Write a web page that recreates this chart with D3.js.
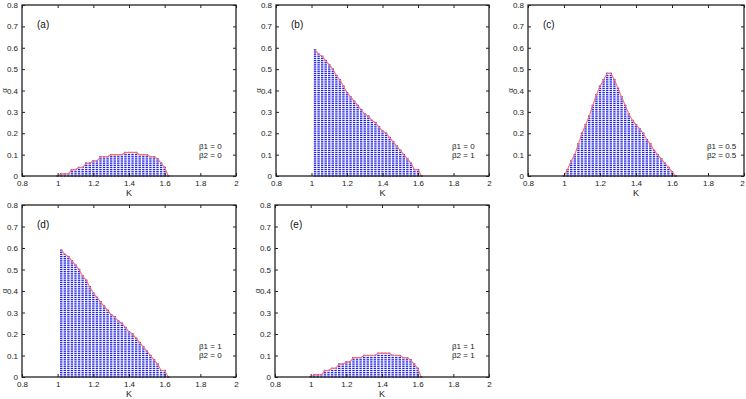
<!DOCTYPE html>
<html>
<head>
<meta charset="utf-8">
<script src="https://cdn.jsdelivr.net/npm/d3@7"></script>
<style>
  body { margin: 0; background: #fff; }
  svg { display: block; font-family: "Liberation Sans", Arial, sans-serif; }
</style>
</head>
<body>
<div id="chart"></div>
<script>
// ticks shared by all five panels
var xTicks = [0.8, 1, 1.2, 1.4, 1.6, 1.8, 2];
var yTicks = [0, 0.1, 0.2, 0.3, 0.4, 0.5, 0.6, 0.7, 0.8];
var alphaStep = 0.01;

// (a) and (e): beta1 = beta2
var kA = [1.00, 1.02, 1.04, 1.06, 1.08, 1.10, 1.12, 1.14, 1.16, 1.18, 1.20, 1.22, 1.24, 1.26, 1.28, 1.30,
          1.32, 1.34, 1.36, 1.38, 1.40, 1.42, 1.44, 1.46, 1.48, 1.50, 1.52, 1.54, 1.56, 1.58, 1.60, 1.62];
var alphaA = [0, 0.01, 0.01, 0.01, 0.03, 0.03, 0.04, 0.04, 0.06, 0.06, 0.07, 0.07, 0.09, 0.09, 0.09, 0.10,
              0.10, 0.10, 0.10, 0.11, 0.11, 0.11, 0.11, 0.10, 0.10, 0.10, 0.09, 0.09, 0.08, 0.06, 0.04, 0];

// (b) and (d): one beta is 1, the other 0
var kB = [1.02, 1.04, 1.06, 1.08, 1.10, 1.12, 1.14, 1.16, 1.18, 1.20, 1.22, 1.24, 1.26, 1.28, 1.30, 1.32,
          1.34, 1.36, 1.38, 1.40, 1.42, 1.44, 1.46, 1.48, 1.50, 1.52, 1.54, 1.56, 1.58, 1.60, 1.62];
var alphaB = [0.59, 0.57, 0.56, 0.54, 0.52, 0.50, 0.47, 0.45, 0.42, 0.39, 0.37, 0.35, 0.33, 0.31, 0.29, 0.28,
              0.26, 0.25, 0.23, 0.21, 0.20, 0.18, 0.16, 0.14, 0.12, 0.10, 0.08, 0.06, 0.03, 0.03, 0];

// (c): beta1 = beta2 = 0.5
var kC = [1.00, 1.02, 1.04, 1.06, 1.08, 1.10, 1.12, 1.14, 1.16, 1.18, 1.20, 1.22, 1.24, 1.26, 1.28, 1.30,
          1.32, 1.34, 1.36, 1.38, 1.40, 1.42, 1.44, 1.46, 1.48, 1.50, 1.52, 1.54, 1.56, 1.58, 1.60, 1.62];
var alphaC = [0, 0.03, 0.07, 0.10, 0.15, 0.20, 0.24, 0.28, 0.33, 0.38, 0.42, 0.45, 0.48, 0.48, 0.45, 0.41,
              0.37, 0.33, 0.29, 0.26, 0.24, 0.22, 0.20, 0.17, 0.15, 0.12, 0.10, 0.08, 0.06, 0.04, 0.02, 0];

var panelLabels = ["(a)", "(b)", "(c)", "(d)", "(e)"];
var beta1 = ["0", "0", "0.5", "1", "1"];
var beta2 = ["0", "1", "0.5", "0", "1"];

var panels = [
  {k: kA, a: alphaA, x: 22,  y: 5,   w: 214, h: 171},
  {k: kB, a: alphaB, x: 276, y: 5,   w: 213, h: 171},
  {k: kC, a: alphaC, x: 528, y: 5,   w: 216, h: 171},
  {k: kB, a: alphaB, x: 22,  y: 205, w: 214, h: 172},
  {k: kA, a: alphaA, x: 275, y: 205, w: 214, h: 172}
];

var svg = d3.select("#chart").append("svg")
    .attr("width", 746)
    .attr("height", 399);

panels.forEach(function(p, i) {
  var g = svg.append("g").attr("transform", "translate(" + p.x + "," + p.y + ")");

  var x = d3.scaleLinear().domain([0.8, 2]).range([0, p.w]);
  var y = d3.scaleLinear().domain([0, 0.8]).range([p.h, 0]);

  // grid points under the boundary
  var dots = [];
  p.k.forEach(function(k, j) {
    var n = Math.round(p.a[j] / alphaStep);
    for (var r = 0; r <= n; r++) dots.push([k, r * alphaStep]);
  });

  g.append("g").selectAll("rect")
    .data(dots)
    .join("rect")
    .attr("x", function(d) { return x(d[0]) - 1.2; })
    .attr("y", function(d) { return y(d[1]) - 0.65; })
    .attr("width", 2.4)
    .attr("height", 1.3)
    .attr("fill", "#2020e6");

  g.append("path")
    .datum(p.k.map(function(k, j) { return [k, p.a[j]]; }))
    .attr("fill", "none")
    .attr("stroke", "#ff6f6f")
    .attr("stroke-width", 1.1)
    .attr("d", d3.line().x(function(d) { return x(d[0]); }).y(function(d) { return y(d[1]); }));

  // axes, ticks pointing inward on all sides
  var fmt = function(d) { return String(d); };
  var bottom = g.append("g").attr("transform", "translate(0," + p.h + ")")
    .call(d3.axisBottom(x).tickValues(xTicks).tickFormat(fmt).tickSizeInner(-3).tickSizeOuter(0).tickPadding(4));
  var left = g.append("g")
    .call(d3.axisLeft(y).tickValues(yTicks).tickFormat(fmt).tickSizeInner(-3).tickSizeOuter(0).tickPadding(4));
  var top = g.append("g")
    .call(d3.axisTop(x).tickValues(xTicks).tickFormat("").tickSizeInner(-3).tickSizeOuter(0));
  var right = g.append("g").attr("transform", "translate(" + p.w + ",0)")
    .call(d3.axisRight(y).tickValues(yTicks).tickFormat("").tickSizeInner(-3).tickSizeOuter(0));

  [bottom, left, top, right].forEach(function(a) {
    a.select(".domain").remove();
    a.selectAll("line").attr("stroke", "#222").attr("stroke-width", 1);
    a.selectAll("text").attr("fill", "#1a1a1a").style("font-size", "8px");
  });
  // keep the last x label inside the page on the right-hand panel
  if (p.x + p.w > 740) bottom.selectAll("text").filter(function(d) { return d === 2; }).attr("dx", "-2");

  g.append("rect")
    .attr("width", p.w)
    .attr("height", p.h)
    .attr("fill", "none")
    .attr("stroke", "#222")
    .attr("stroke-width", 1.3);

  g.append("text")
    .attr("x", p.w / 2)
    .attr("y", p.h + 20)
    .attr("text-anchor", "middle")
    .attr("fill", "#222")
    .style("font-size", "9px")
    .text("K");

  g.append("text")
    .attr("transform", "translate(-15.5," + (p.h / 2) + ") rotate(-90)")
    .attr("text-anchor", "middle")
    .attr("fill", "#222")
    .style("font-size", "8px")
    .text("α");

  g.append("text")
    .attr("x", 15)
    .attr("y", 23)
    .attr("fill", "#111")
    .style("font-size", "10px")
    .text(panelLabels[i]);

  g.append("text")
    .attr("x", p.w - 37)
    .attr("y", 144)
    .attr("fill", "#222")
    .style("font-size", "8px")
    .text("β1 = " + beta1[i]);

  g.append("text")
    .attr("x", p.w - 37)
    .attr("y", 153)
    .attr("fill", "#222")
    .style("font-size", "8px")
    .text("β2 = " + beta2[i]);
});
</script>
</body>
</html>
